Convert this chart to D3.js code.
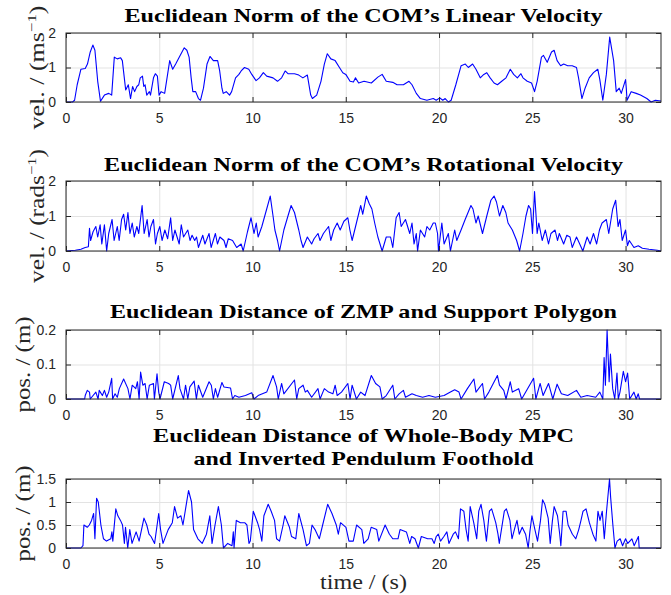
<!DOCTYPE html>
<html><head><meta charset="utf-8">
<script src="https://cdn.jsdelivr.net/npm/d3@7"></script>
<style>
html,body{margin:0;padding:0;background:#fff;}
svg{display:block;}
.tick text{font-family:"Liberation Sans",Arial,sans-serif;}
</style></head>
<body>
<svg id="chart" width="671" height="595"></svg>
<script>
// ---------- data ----------
const xTicks = [0, 5, 10, 15, 20, 25, 30];
const xMax = 31.9;

const linVel = [[0,0],[0.35,0],[0.46,0.05],[0.6,0.5],[0.8,0.95],[1.03,0.97],[1.15,1.1],[1.3,1.45],[1.44,1.65],[1.55,1.5],[1.7,0.6],[1.85,0.02],[2.06,0.2],[2.29,0.25],[2.45,0.2],[2.59,1.3],[2.75,1.25],[2.93,1.28],[3.02,1.2],[3.2,0.35],[3.34,0.5],[3.46,0.1],[3.57,0.45],[3.68,0.3],[3.8,0.45],[3.9,0.5],[3.98,0.7],[4.1,0.75],[4.17,0.45],[4.24,0.5],[4.33,0.2],[4.47,0.3],[4.53,0.2],[4.69,0.7],[4.79,0.82],[4.9,0.75],[4.99,0.2],[5.1,0.3],[5.29,0.25],[5.56,1.2],[5.72,0.95],[5.88,1.1],[6.07,1.3],[6.34,1.57],[6.48,1.5],[6.6,1.3],[6.71,0.7],[6.8,0.3],[6.95,0.3],[7.1,0.1],[7.21,0.05],[7.37,0.4],[7.56,1.1],[7.72,1.32],[7.9,1.2],[8.13,1.2],[8.24,0.9],[8.36,0.4],[8.43,0.25],[8.59,0.3],[8.77,0.2],[8.88,0.3],[9.09,0.7],[9.27,0.8],[9.39,0.9],[9.57,1.0],[9.8,0.95],[9.96,0.8],[10.19,0.62],[10.37,0.7],[10.58,0.85],[10.76,0.75],[11.1,0.7],[11.34,0.6],[11.56,0.7],[11.75,0.9],[11.9,0.82],[12.25,0.82],[12.48,0.78],[12.7,0.7],[12.94,0.78],[13.12,0.2],[13.21,0.1],[13.44,0.2],[13.67,0.6],[13.85,1.1],[14.01,1.4],[14.2,1.25],[14.43,1.2],[14.66,1.0],[14.84,0.85],[15.0,0.8],[15.23,0.6],[15.41,0.58],[15.52,0.7],[15.69,0.55],[15.98,0.6],[16.37,0.55],[16.72,0.72],[16.95,0.8],[17.17,0.6],[17.52,0.57],[17.75,0.5],[18.09,0.5],[18.39,0.6],[18.55,0.5],[18.78,0.25],[19.0,0.1],[19.35,0.05],[19.69,0.1],[19.85,0.05],[20.04,0.12],[20.2,0.05],[20.33,0.1],[20.5,0.0],[20.65,0.05],[20.9,0.5],[21.18,1.05],[21.41,1.1],[21.57,1.0],[21.8,1.1],[21.98,0.95],[22.21,0.7],[22.4,0.8],[22.56,0.85],[22.74,0.7],[22.95,0.55],[23.13,0.5],[23.36,0.6],[23.59,0.7],[23.82,0.95],[24.0,0.8],[24.2,0.7],[24.39,0.82],[24.5,0.7],[24.73,0.6],[24.96,0.55],[25.12,0.3],[25.26,0.6],[25.49,1.3],[25.6,1.35],[25.8,1.15],[26.03,1.45],[26.17,1.5],[26.33,1.2],[26.52,1.05],[26.68,1.1],[26.9,1.05],[27.14,1.05],[27.37,1.0],[27.48,0.7],[27.66,0.1],[27.83,0.4],[28.05,0.7],[28.28,0.85],[28.51,0.95],[28.62,0.65],[28.78,0.05],[28.97,0.8],[29.15,1.88],[29.36,1.2],[29.5,0.3],[29.66,0.4],[29.77,0.25],[30.0,0.65],[30.04,0.4],[30.08,0.05],[30.3,0.3],[30.57,0.25],[30.8,0.2],[31.14,0.1],[31.37,0.0],[31.6,0.05],[31.9,0.03]];

const rotVel = [[0,0],[0.5,0.02],[0.8,0.05],[1.03,0.1],[1.2,0.12],[1.26,0.65],[1.32,0.3],[1.45,0.55],[1.6,0.7],[1.7,0.4],[1.83,0.75],[1.92,0.2],[2.06,0.75],[2.18,0.0],[2.29,0.5],[2.47,0.9],[2.58,0.3],[2.75,0.7],[2.85,0.3],[2.98,0.9],[3.09,1.05],[3.2,0.6],[3.32,1.1],[3.43,0.5],[3.55,0.8],[3.66,0.4],[3.8,0.7],[3.9,0.5],[4.08,1.3],[4.19,0.5],[4.35,0.9],[4.45,0.4],[4.55,0.7],[4.69,0.9],[4.8,0.2],[4.9,0.5],[5.03,0.7],[5.15,0.3],[5.3,0.6],[5.45,0.35],[5.61,0.95],[5.72,0.3],[5.84,0.6],[6.07,0.2],[6.18,0.75],[6.3,0.4],[6.53,0.6],[6.65,0.3],[6.76,0.45],[6.9,0.3],[7.0,0.4],[7.1,0.1],[7.33,0.45],[7.45,0.2],[7.67,0.5],[7.78,0.1],[8.01,0.5],[8.12,0.2],[8.25,0.4],[8.47,0.3],[8.58,0.1],[8.7,0.35],[8.93,0.3],[9.15,0.1],[9.39,0.2],[9.5,0.0],[9.73,0.55],[9.92,0.95],[10.08,0.5],[10.2,0.8],[10.3,0.4],[10.5,0.7],[10.76,1.2],[10.95,1.57],[11.1,1.0],[11.2,0.6],[11.34,0.3],[11.45,0.0],[11.68,0.6],[11.9,1.0],[12.07,1.3],[12.25,1.1],[12.48,0.6],[12.6,0.3],[12.71,0.1],[12.94,0.4],[13.17,0.2],[13.3,0.35],[13.51,0.5],[13.62,0.3],[13.8,0.5],[14.08,0.7],[14.2,0.3],[14.35,0.6],[14.54,0.8],[14.7,0.6],[14.9,0.85],[15.11,0.95],[15.22,0.6],[15.34,0.3],[15.57,0.8],[15.8,1.3],[15.91,1.05],[16.1,1.57],[16.26,1.35],[16.4,1.2],[16.55,0.8],[16.72,0.4],[16.95,0.0],[17.17,0.4],[17.4,0.4],[17.52,0.1],[17.7,0.95],[17.86,1.1],[17.97,0.7],[18.2,0.9],[18.43,0.5],[18.55,0.8],[18.66,0.2],[18.78,0.5],[18.85,0.0],[19.0,0.6],[19.23,0.4],[19.35,0.7],[19.5,0.6],[19.69,0.8],[19.8,0.8],[19.92,0.5],[19.97,0.0],[20.15,0.8],[20.27,0.2],[20.5,0.5],[20.61,0.0],[20.84,0.6],[20.95,0.3],[21.18,0.6],[21.4,0.9],[21.71,1.3],[21.82,1.2],[21.98,0.8],[22.1,1.0],[22.33,0.5],[22.56,1.0],[22.78,1.45],[22.95,1.57],[23.08,1.4],[23.24,1.0],[23.42,1.3],[23.58,1.1],[23.7,0.8],[23.93,0.6],[24.16,0.3],[24.32,0.0],[24.5,0.5],[24.66,1.0],[24.8,1.3],[24.91,1.2],[25.01,0.5],[25.12,1.7],[25.26,0.5],[25.35,0.8],[25.53,0.3],[25.7,0.6],[25.87,0.2],[26.0,0.5],[26.22,0.6],[26.35,0.3],[26.45,0.5],[26.68,0.2],[26.85,0.45],[27.02,0.4],[27.14,0.1],[27.37,0.4],[27.5,0.25],[27.71,0.0],[27.94,0.4],[28.1,0.2],[28.28,0.5],[28.45,0.2],[28.6,0.6],[28.74,0.8],[28.97,0.9],[29.1,0.5],[29.31,1.2],[29.47,1.45],[29.6,0.7],[29.7,0.9],[29.82,0.3],[30.0,0.6],[30.1,0.15],[30.2,0.3],[30.45,0.1],[30.68,0.15],[30.9,0.08],[31.26,0.05],[31.7,0.02],[31.9,0.0]];

const zmpDist = [[0,0],[1.0,0],[1.03,0.01],[1.14,0.025],[1.26,0.02],[1.3,0.0],[1.6,0.02],[1.72,0.0],[1.78,0.025],[1.95,0.01],[2.06,0.025],[2.18,0.005],[2.29,0.02],[2.45,0.06],[2.5,0.0],[2.63,0.015],[2.75,0.005],[2.86,0.03],[3.09,0.058],[3.32,0.03],[3.43,0.0],[3.55,0.04],[3.74,0.03],[3.83,0.05],[3.92,0.0],[4.0,0.078],[4.12,0.04],[4.24,0.045],[4.35,0.0],[4.47,0.04],[4.69,0.045],[4.74,0.0],[4.88,0.073],[4.97,0.02],[5.04,0.0],[5.27,0.05],[5.5,0.045],[5.61,0.04],[5.72,0.0],[6.02,0.068],[6.11,0.03],[6.3,0.0],[6.41,0.04],[6.53,0.0],[6.64,0.035],[6.87,0.052],[6.99,0.0],[7.1,0.04],[7.33,0.005],[7.67,0.05],[7.79,0.04],[7.9,0.0],[8.01,0.03],[8.13,0.005],[8.36,0.048],[8.47,0.035],[8.82,0.032],[8.93,0.0],[9.05,0.01],[9.27,0.005],[9.62,0.01],[9.96,0.018],[10.08,0.0],[10.3,0.01],[10.76,0.02],[11.1,0.068],[11.29,0.035],[11.38,0.0],[11.56,0.045],[11.68,0.015],[12.25,0.055],[12.37,0.0],[12.48,0.03],[12.71,0.04],[12.83,0.02],[12.94,0.025],[13.17,0.005],[13.51,0.03],[13.62,0.0],[13.85,0.03],[14.08,0.02],[14.31,0.015],[14.43,0.04],[14.54,0.01],[14.77,0.02],[15.11,0.045],[15.23,0.0],[15.34,0.04],[15.57,0.0],[15.8,0.02],[16.03,0.01],[16.37,0.068],[16.6,0.045],[16.83,0.035],[16.95,0.0],[17.17,0.01],[17.52,0.04],[17.63,0.0],[17.86,0.015],[18.09,0.025],[18.2,0.005],[18.55,0.015],[18.78,0.01],[19.12,0.005],[19.46,0.01],[19.8,0.005],[20.27,0.01],[20.61,0.02],[20.84,0.027],[21.07,0.02],[21.18,0.0],[21.52,0.03],[21.87,0.058],[21.98,0.02],[22.33,0.045],[22.44,0.0],[22.67,0.02],[23.13,0.068],[23.24,0.04],[23.47,0.025],[23.59,0.0],[23.82,0.05],[23.93,0.02],[24.27,0.03],[24.43,0.0],[25.07,0.06],[25.19,0.0],[25.42,0.045],[25.58,0.01],[25.87,0.045],[26.1,0.0],[26.33,0.043],[26.56,0.015],[26.9,0.01],[27.37,0.025],[27.6,0.005],[27.94,0.01],[28.4,0.005],[28.62,0.02],[28.78,0.0],[28.85,0.12],[28.92,0.04],[29.01,0.2],[29.12,0.05],[29.19,0.13],[29.31,0.03],[29.42,0.0],[29.54,0.075],[29.61,0.0],[29.7,0.02],[29.88,0.08],[30.0,0.05],[30.11,0.075],[30.22,0.0],[30.45,0.02],[30.57,0.0],[30.68,0.015],[30.75,0.0],[31.9,0.0]];

const footDist = [[0,0],[0.8,0],[0.91,0.05],[0.96,0.5],[1.14,0.45],[1.25,0.5],[1.37,0.6],[1.48,0.75],[1.55,0.2],[1.64,1.08],[1.73,1.0],[1.87,0.5],[2.01,0.2],[2.17,0.15],[2.4,0.2],[2.46,0.35],[2.51,0.15],[2.67,0.85],[2.78,0.7],[2.92,0.6],[3.03,0.5],[3.13,0.1],[3.19,0.45],[3.31,0.0],[3.42,0.4],[3.54,0.1],[3.76,0.35],[3.92,0.15],[4.18,0.65],[4.33,0.5],[4.45,0.3],[4.56,0.25],[4.75,0.1],[4.97,0.75],[5.07,0.4],[5.2,0.1],[5.48,0.4],[5.7,0.55],[5.82,0.9],[5.98,0.65],[6.16,0.7],[6.27,0.5],[6.43,0.9],[6.57,1.25],[6.73,1.0],[6.84,0.4],[7.07,0.2],[7.3,0.1],[7.53,0.3],[7.71,0.7],[7.83,0.1],[7.99,0.5],[8.17,0.9],[8.33,0.5],[8.44,0.0],[8.67,0.1],[8.9,0.05],[8.97,0.35],[9.01,0.0],[9.13,0.6],[9.35,0.55],[9.58,0.55],[9.7,0.5],[9.81,0.1],[9.88,0.15],[10.04,0.8],[10.27,0.55],[10.38,0.4],[10.5,0.15],[10.61,0.7],[10.84,0.95],[11.0,0.8],[11.18,0.6],[11.29,0.2],[11.45,0.15],[11.64,0.5],[11.73,0.7],[11.98,0.45],[12.09,0.25],[12.32,0.2],[12.48,0.75],[12.71,0.4],[12.89,0.05],[13.05,0.1],[13.19,0.5],[13.35,0.4],[13.58,0.2],[13.76,0.5],[14.03,0.95],[14.26,0.75],[14.49,0.5],[14.6,0.3],[14.72,0.55],[15.01,0.45],[15.17,0.15],[15.4,0.15],[15.58,0.5],[15.86,0.4],[15.97,0.1],[16.2,0.2],[16.36,0.45],[16.66,0.4],[16.77,0.15],[17.11,0.5],[17.34,0.3],[17.52,0.2],[17.8,0.2],[17.91,0.4],[18.25,0.35],[18.43,0.1],[18.53,0.25],[18.71,0.2],[18.89,0.0],[19.05,0.25],[19.39,0.2],[19.62,0.2],[19.74,0.1],[19.85,0.25],[19.96,0.3],[20.08,0.15],[20.26,0.25],[20.42,0.35],[20.53,0.1],[20.76,0.3],[20.88,0.35],[21.04,0.2],[21.15,0.85],[21.33,0.8],[21.45,0.4],[21.56,0.15],[21.67,0.9],[21.86,0.55],[22.02,0.2],[22.13,0.8],[22.25,0.95],[22.4,0.6],[22.54,0.15],[22.7,0.8],[22.82,0.85],[23.04,0.55],[23.16,0.3],[23.23,0.1],[23.5,0.8],[23.61,0.85],[23.8,0.6],[23.91,0.2],[24.07,0.45],[24.18,0.6],[24.3,0.3],[24.46,0.45],[24.64,0.3],[24.78,0.0],[24.87,0.35],[24.98,0.7],[25.14,0.4],[25.28,0.15],[25.44,0.6],[25.55,1.05],[25.67,0.95],[25.85,0.65],[25.96,0.1],[26.08,0.6],[26.17,0.9],[26.35,0.7],[26.47,0.3],[26.53,0.05],[26.65,0.8],[26.81,0.8],[26.92,0.5],[27.15,0.3],[27.33,0.2],[27.49,0.4],[27.61,0.6],[27.72,0.8],[27.88,0.85],[28.06,0.55],[28.25,0.3],[28.41,0.15],[28.52,0.8],[28.63,0.6],[28.75,0.8],[28.86,0.2],[28.98,0.8],[29.14,1.5],[29.2,1.1],[29.32,0.5],[29.43,0.0],[29.55,0.15],[29.71,0.2],[29.84,0.05],[30.0,0.2],[30.12,0.1],[30.34,0.2],[30.46,0.05],[30.69,0.25],[30.73,0.0],[31.9,0.0]];

const yTicksVel = [0, 1, 2];
const yTicksZmp = [0, 0.1, 0.2];
const yTicksFoot = [0, 0.5, 1, 1.5];

const titles = [
  ["Euclidean Norm of the COM\u2019s Linear Velocity"],
  ["Euclidean Norm of the COM\u2019s Rotational Velocity"],
  ["Euclidean Distance of ZMP and Support Polygon"],
  ["Euclidean Distance of Whole-Body MPC", "and Inverted Pendulum Foothold"]
];
const yLabels = [
  ["vel. / (ms", "\u22121", ")"],
  ["vel. / (rads", "\u22121", ")"],
  ["pos. / (m)", "", ""],
  ["pos. / (m)", "", ""]
];
const xLabel = "time / (s)";

// ---------- layout ----------
const svg = d3.select("#chart");
const L = 66, R = 661;
const panels = [
  {data: linVel,  ymax: 2,   yt: yTicksVel,  top: 33,  bot: 102, tY: [22],      tW: [478], lx: 44, lw: 124},
  {data: rotVel,  ymax: 2,   yt: yTicksVel,  top: 181, bot: 251, tY: [171],     tW: [519], lx: 44, lw: 134},
  {data: zmpDist, ymax: 0.2, yt: yTicksZmp,  top: 330, bot: 399, tY: [318],     tW: [507], lx: 30, lw: 96},
  {data: footDist,ymax: 1.5, yt: yTicksFoot, top: 479, bot: 548, tY: [442,465], tW: [421,340], lx: 30, lw: 96}
];
const fmt = d3.format("~g");
const serif = '"Liberation Serif","Times New Roman",serif';

panels.forEach((p, i) => {
  const x = d3.scaleLinear().domain([0, xMax]).range([L, R]);
  const y = d3.scaleLinear().domain([0, p.ymax]).range([p.bot, p.top]);
  const g = svg.append("g");

  // grid
  g.append("g").attr("transform", `translate(0,${p.bot})`)
    .call(d3.axisBottom(x).tickValues(xTicks).tickSize(-(p.bot - p.top)).tickFormat(""))
    .call(s => { s.select(".domain").remove(); s.selectAll("line").attr("stroke", "#e3e3e3").attr("class", "grid"); });
  g.append("g").attr("transform", `translate(${L},0)`)
    .call(d3.axisLeft(y).tickValues(p.yt).tickSize(-(R - L)).tickFormat(""))
    .call(s => { s.select(".domain").remove(); s.selectAll("line").attr("stroke", "#e3e3e3").attr("class", "grid"); });

  // line
  const line = d3.line().x(d => x(d[0])).y(d => y(d[1]));
  g.append("path").datum(p.data).attr("d", line)
    .attr("fill", "none").attr("stroke", "#0000ff").attr("stroke-width", 1.1)
    .attr("stroke-linejoin", "round");

  // axes with inward ticks
  const tk = 5;
  const bottomAx = g.append("g").attr("transform", `translate(0,${p.bot})`)
    .call(d3.axisBottom(x).tickValues(xTicks).tickSizeInner(-tk).tickSizeOuter(0).tickPadding(11).tickFormat(fmt));
  bottomAx.selectAll("text").attr("font-size", 14).attr("fill", "#262626").attr("dy", "0.71em");
  g.append("g").attr("transform", `translate(0,${p.top})`)
    .call(d3.axisTop(x).tickValues(xTicks).tickSizeInner(-tk).tickSizeOuter(0).tickFormat(""));
  const leftAx = g.append("g").attr("transform", `translate(${L},0)`)
    .call(d3.axisLeft(y).tickValues(p.yt).tickSizeInner(-tk).tickSizeOuter(0).tickPadding(10).tickFormat(fmt));
  leftAx.selectAll("text").attr("font-size", 14).attr("fill", "#262626");
  g.append("g").attr("transform", `translate(${R},0)`)
    .call(d3.axisRight(y).tickValues(p.yt).tickSizeInner(-tk).tickSizeOuter(0).tickFormat(""));
  g.selectAll(".domain").attr("stroke", "none");
  g.selectAll(".tick line:not(.grid)").attr("stroke", "#262626");

  // box
  g.append("rect").attr("x", L).attr("y", p.top).attr("width", R - L).attr("height", p.bot - p.top)
    .attr("fill", "none").attr("stroke", "#262626").attr("stroke-width", 1);

  // title
  titles[i].forEach((t, k) => {
    g.append("text").attr("x", (L + R) / 2).attr("y", p.tY[k])
      .attr("text-anchor", "middle").attr("font-family", serif).attr("font-weight", "bold")
      .attr("font-size", 19).attr("fill", "#000")
      .attr("textLength", p.tW[k]).attr("lengthAdjust", "spacingAndGlyphs")
      .text(t);
  });

  // y label
  const yl = yLabels[i];
  const ty = g.append("text")
    .attr("transform", `translate(${p.lx},${(p.top + p.bot) / 2}) rotate(-90)`)
    .attr("text-anchor", "middle").attr("font-family", serif).attr("font-size", 20).attr("fill", "#262626")
    .attr("textLength", p.lw).attr("lengthAdjust", "spacingAndGlyphs");
  ty.append("tspan").text(yl[0]);
  if (yl[1]) {
    ty.append("tspan").attr("font-size", 13).attr("dy", -8).text(yl[1]);
    ty.append("tspan").attr("dy", 8).text(yl[2]);
  }
});

svg.append("text").attr("x", (L + R) / 2).attr("y", 589)
  .attr("text-anchor", "middle").attr("font-family", serif).attr("font-size", 20).attr("fill", "#262626")
  .attr("textLength", 87).attr("lengthAdjust", "spacingAndGlyphs")
  .text(xLabel);
</script>
</body></html>
